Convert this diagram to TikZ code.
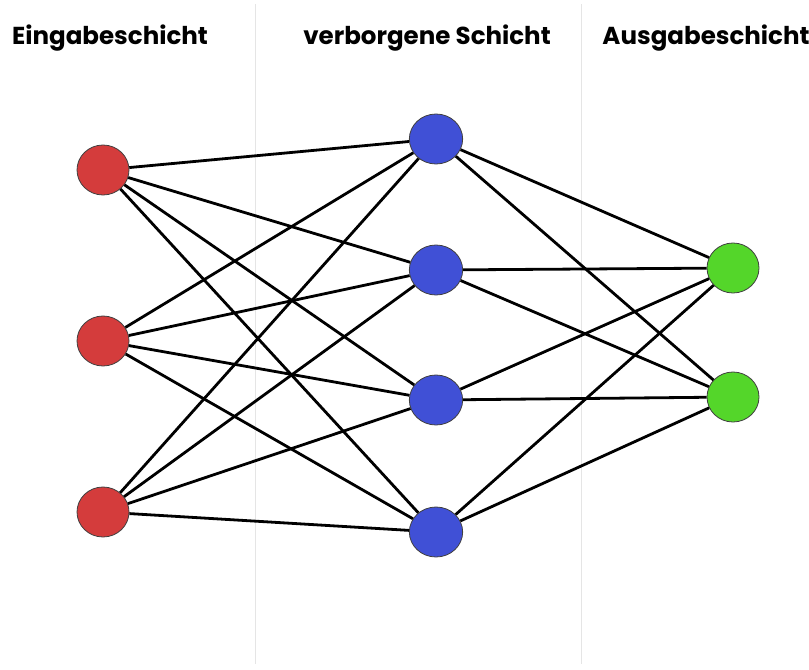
\documentclass[tikz,border=0pt]{standalone}
\usepackage{fontspec}
\setmainfont{Poppins}
\usetikzlibrary{positioning,shapes.geometric}
\definecolor{inred}{RGB}{212,60,60}
\definecolor{hidblue}{RGB}{64,80,214}
\definecolor{outgreen}{RGB}{84,214,42}

\begin{document}
\begin{tikzpicture}[x=0.75pt,y=0.75pt,
  neuron/.style={ellipse,draw=black!75,line width=0.6pt,minimum width=39pt,minimum height=37.5pt,inner sep=0pt},
  edge/.style={line width=2.1pt},
  layertitle/.style={font=\bfseries\fontsize{18.4}{20}\selectfont}]
  \useasboundingbox (0,0) rectangle (809,669);
  % Separators
  \draw[black!10, line width=0.75pt] (255,5) -- (255,665);
  \draw[black!10, line width=0.75pt] (581,5) -- (581,665);
  % Layer titles
  \node[layertitle] (tin) at (110,669-38) {Eingabeschicht};
  \node[layertitle] (thid) at (427,669-38) {verborgene Schicht};
  \node[layertitle] (tout) at (706,669-38) {Ausgabeschicht};
  % Neurons
  \foreach \y [count=\i] in {170,341,512}
    \node[neuron, fill=inred] (in\i) at (103,669-\y) {};
  \foreach \y [count=\i] in {139,270,400,532}
    \node[neuron, fill=hidblue, minimum width=40pt] (hid\i) at (436,669-\y) {};
  \foreach \y [count=\i] in {268,397}
    \node[neuron, fill=outgreen] (out\i) at (733,669-\y) {};
  % Connections
  \foreach \i in {1,2,3}
    \foreach \j in {1,...,4}
      \draw[edge] (in\i) -- (hid\j);
  \foreach \j in {1,...,4}
    \foreach \k in {1,2}
      \draw[edge] (hid\j) -- (out\k);
\end{tikzpicture}
\end{document}
